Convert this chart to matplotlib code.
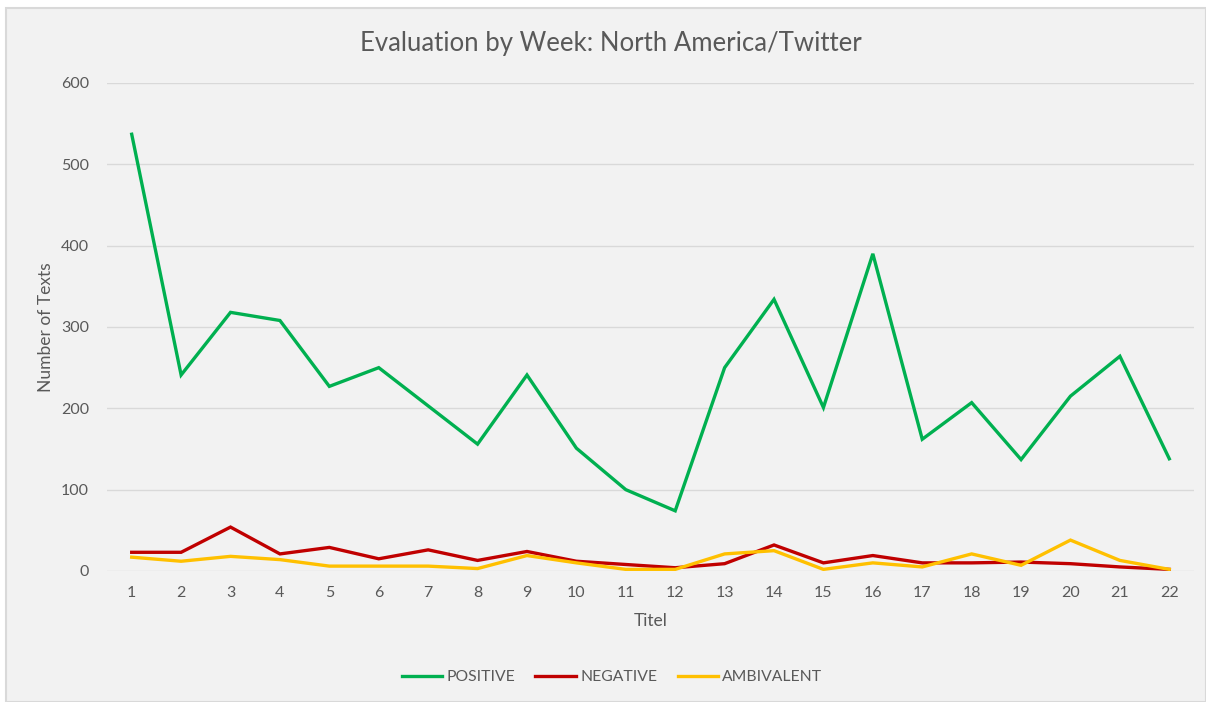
# -*- coding: utf-8 -*-

#Importing necessary libraries
import numpy as np
import matplotlib.pyplot as plt
from matplotlib.patches import Rectangle

#Weekly counts
weeks = list(range(1, 23))
positive = [537, 241, 318, 308, 227, 250, 203, 156, 241, 151, 100, 74,
            250, 334, 201, 390, 162, 207, 137, 215, 264, 138]
negative = [23, 23, 54, 21, 29, 15, 26, 13, 24, 12, 8, 4,
            9, 32, 10, 19, 10, 10, 11, 9, 5, 2]
ambivalent = [17, 12, 18, 14, 6, 6, 6, 3, 19, 10, 2, 2,
              21, 25, 2, 10, 5, 21, 7, 38, 13, 2]
series_names = ['POSITIVE', 'NEGATIVE', 'AMBIVALENT']

plt.rcParams['font.family'] = ['Lato', 'DejaVu Sans']
txt = '#595959'

fig = plt.figure(figsize=(12.06, 7.02), dpi=100, facecolor='white')
fig.patches.append(Rectangle((6/1206, 0), 1 - 6/1206, 1 - 8/702,
                             transform=fig.transFigure, facecolor='#f2f2f2',
                             edgecolor='#d9d9d9', linewidth=1.5, zorder=-5))

ax = fig.add_axes([107/1206, 1 - 571/702, (1194-107)/1206, (571-83)/702])
ax.set_facecolor('#f2f2f2')

ax.plot(weeks, positive, color='#00b050', lw=2.4, label=series_names[0],
        solid_joinstyle='miter')
ax.plot(weeks, negative, color='#c00000', lw=2.4, label=series_names[1],
        solid_joinstyle='miter')
ax.plot(weeks, ambivalent, color='#ffc000', lw=2.4, label=series_names[2],
        solid_joinstyle='miter')

ax.set_xlim(0.5, 22.5)
ax.set_ylim(0, 600)
ax.set_xticks(weeks)
ax.set_yticks(np.arange(0, 601, 100))
ax.grid(axis='y', color='#d9d9d9', lw=1)
ax.set_axisbelow(True)
for s in ax.spines.values():
    s.set_visible(False)
ax.tick_params(length=0, labelsize=11.5, labelcolor=txt)
ax.tick_params(axis='y', pad=13)
ax.tick_params(axis='x', pad=11)

ax.set_xlabel('Titel', fontsize=12.5, color=txt, labelpad=9)
ax.set_ylabel('Number of Texts', fontsize=12.5, color=txt, labelpad=5)
fig.text(611/1206, 1 - 43/702, 'Evaluation by Week: North America/Twitter',
         ha='center', va='center', fontsize=18.5, color=txt)

leg = ax.legend(loc='center', bbox_to_anchor=(0.4646, -0.218), ncol=3,
                frameon=False, fontsize=11.3, handlelength=2.6,
                handletextpad=0.25, columnspacing=1.3)
for t in leg.get_texts():
    t.set_color(txt)

plt.savefig('out.png', dpi=100)
